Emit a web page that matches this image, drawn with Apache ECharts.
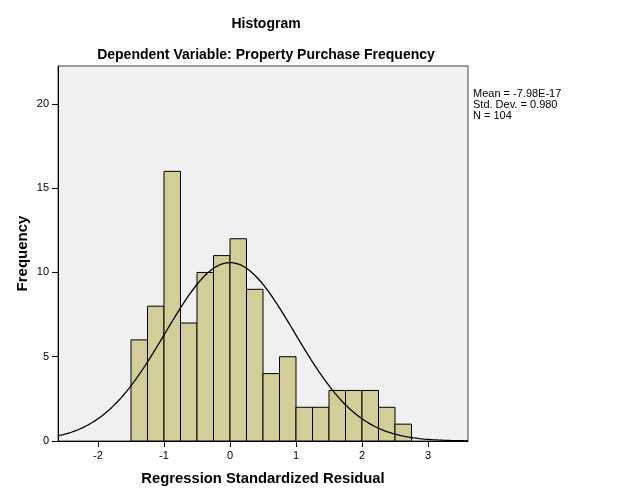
<!DOCTYPE html>
<html><head><meta charset="utf-8">
<script src="https://cdn.jsdelivr.net/npm/echarts@6/dist/echarts.min.js"></script>
<style>html,body{margin:0;padding:0;background:#fff}#c{width:626px;height:501px}</style>
</head><body><div id="c"></div>
<script>
// Histogram data (bin width 0.25)
const binStarts = [-1.5,-1.25,-1.0,-0.75,-0.5,-0.25,0,0.25,0.5,0.75,1.0,1.25,1.5,1.75,2.0,2.25,2.5];
const counts    = [6,8,16,7,10,11,12,9,4,5,2,2,3,3,3,2,1];
const binWidth = 0.25;
const xTicks = [-2,-1,0,1,2,3];
const yTicks = [0,5,10,15,20];
const statMean = -7.98e-17, statSD = 0.980, statN = 104;
const xMin = -2.606, xMax = 3.606, yMax = 22.25;

// Fitted normal curve from displayed statistics
const curve = [];
for (let i = 0; i <= 311; i++) {
  const x = xMin + (xMax - xMin) * i / 311;
  const z = (x - statMean) / statSD;
  curve.push([x, statN * binWidth * Math.exp(-0.5 * z * z) / (statSD * Math.sqrt(2 * Math.PI))]);
}
const barData = binStarts.map((s, i) => [s, s + binWidth, counts[i]]);

const chart = echarts.init(document.getElementById('c'), null, {renderer: 'canvas'});
const F = 'Liberation Sans, Arial, sans-serif';
chart.setOption({
  animation: false,
  backgroundColor: '#fff',
  title: [
    {text: 'Histogram', left: 261, top: 12, textAlign: 'center',
     textStyle: {fontFamily: F, fontSize: 14, fontWeight: 'bold', color: '#000'}},
    {text: 'Dependent Variable: Property Purchase Frequency', left: 261, top: 43, textAlign: 'center',
     textStyle: {fontFamily: F, fontSize: 14, fontWeight: 'bold', color: '#000'}}
  ],
  grid: {left: 58, right: 158, top: 66, bottom: 60, show: true, backgroundColor: '#f0f0f0',
         borderColor: '#444', borderWidth: 1},
  xAxis: {type: 'value', min: xMin, max: xMax,
    name: 'Regression Standardized Residual', nameLocation: 'middle', nameGap: 30,
    nameTextStyle: {fontFamily: F, fontSize: 14.8, fontWeight: 'bold', color: '#000'},
    axisLine: {show: true, onZero: false, lineStyle: {color: '#000', width: 1}},
    axisTick: {show: true, length: 6, customValues: xTicks, lineStyle: {color: '#000'}},
    axisLabel: {customValues: xTicks, fontFamily: F, fontSize: 11, color: '#000', margin: 9},
    splitLine: {show: false}},
  yAxis: {type: 'value', min: 0, max: yMax,
    name: 'Frequency', nameLocation: 'middle', nameGap: 28, nameMoveOverlap: false,
    nameTextStyle: {fontFamily: F, fontSize: 15, fontWeight: 'bold', color: '#000'},
    axisLine: {show: true, onZero: false, lineStyle: {color: '#000', width: 1}},
    axisTick: {show: true, length: 6, customValues: yTicks, lineStyle: {color: '#000'}},
    axisLabel: {customValues: yTicks, fontFamily: F, fontSize: 11, color: '#000', margin: 9},
    splitLine: {show: false}},
  graphic: [{type: 'text', left: 473, top: 88,
    style: {text: 'Mean = -7.98E-17\nStd. Dev. = 0.980\nN = 104', fontFamily: F, fontSize: 11,
            lineHeight: 11, fill: '#000'}}],
  series: [
    {type: 'custom', data: barData, clip: true,
     renderItem: function (params, api) {
       const p0 = api.coord([api.value(0), api.value(2)]);
       const p1 = api.coord([api.value(1), 0]);
       return {type: 'rect', shape: {x: p0[0], y: p0[1], width: p1[0] - p0[0], height: p1[1] - p0[1]},
         style: {fill: '#d3ce97', stroke: '#000', lineWidth: 1}};
     }, z: 2},
    {type: 'line', data: curve, showSymbol: false, smooth: false, clip: true,
     lineStyle: {color: '#000', width: 1.3}, z: 3}
  ]
});
</script></body></html>
